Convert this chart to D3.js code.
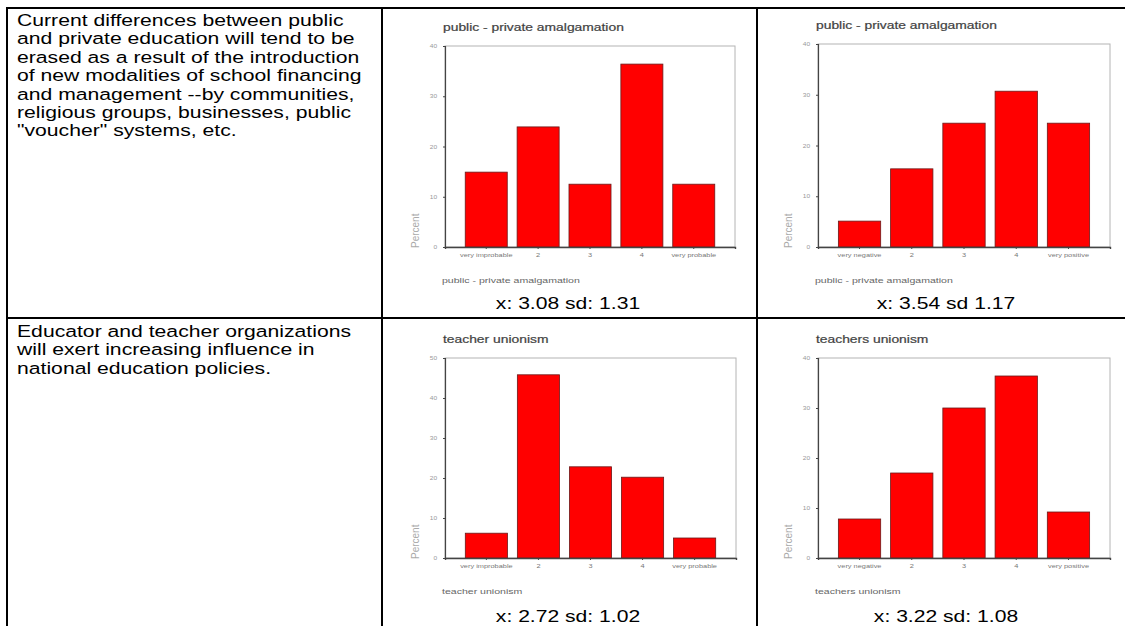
<!DOCTYPE html>
<html>
<head>
<meta charset="utf-8">
<script src="https://d3js.org/d3.v7.min.js"></script>
<style>
  body { margin: 0; background: #ffffff; font-family: Arial, "Liberation Sans", sans-serif; }
</style>
</head>
<body>
<div id="my_dataviz"></div>
<script>

// statements in the left column
var statementA = ["Current differences between public",
                  "and private education will tend to be",
                  "erased as a result of the introduction",
                  "of new modalities of school financing",
                  "and management --by communities,",
                  "religious groups, businesses, public",
                  "\"voucher\" systems, etc."];
var statementB = ["Educator and teacher organizations",
                  "will exert increasing influence in",
                  "national education policies."];

// answer categories
var catsProbable = ["very improbable", "2", "3", "4", "very probable"];
var catsPositive = ["very negative", "2", "3", "4", "very positive"];

// percent per category
var amalgamationProb = [14.9, 23.9, 12.5, 36.4, 12.5];
var amalgamationPos  = [5.1, 15.4, 24.4, 30.7, 24.4];
var unionismProb     = [6.2, 45.8, 22.8, 20.2, 5.0];
var unionismPos      = [7.8, 17.0, 30.0, 36.4, 9.2];

// y ticks
var ticks40 = [0, 10, 20, 30, 40];
var ticks50 = [0, 10, 20, 30, 40, 50];

// captions
var captions = ["x: 3.08 sd: 1.31", "x: 3.54 sd 1.17", "x: 2.72 sd: 1.02", "x: 3.22 sd: 1.08"];

var W = 1125, H = 626;
var sx = 1.32;   // the original page is stretched sideways

var svg = d3.select("#my_dataviz")
  .append("svg")
    .attr("width", W)
    .attr("height", H);

// table grid
var colX = [7, 382, 757, 1140];
var rowY = [8, 318, 640];
var grid = svg.append("g").attr("stroke", "#000").attr("stroke-width", 2);
colX.forEach(function(x) {
  grid.append("line").attr("x1", x).attr("x2", x).attr("y1", rowY[0] - 1).attr("y2", rowY[2]);
});
rowY.forEach(function(y) {
  grid.append("line").attr("x1", colX[0] - 1).attr("x2", colX[3]).attr("y1", y).attr("y2", y);
});

// left column text
function statement(lines, y0) {
  svg.append("text")
    .attr("transform", "translate(17," + y0 + ") scale(1.245,1)")
    .attr("font-size", 17)
    .attr("fill", "#000")
    .selectAll("tspan")
    .data(lines)
    .enter().append("tspan")
      .attr("x", 0)
      .attr("dy", function(d, i) { return i === 0 ? 0 : 18.4; })
      .text(function(d) { return d; });
}
statement(statementA, 26);
statement(statementB, 337);

// one small spss-like bar chart
function drawChart(o) {
  var g = svg.append("g");
  var x = d3.scaleBand()
    .domain(o.cats)
    .range([o.left, o.right])
    .paddingInner(0.19)
    .paddingOuter(0.39);
  var y = d3.scaleLinear()
    .domain([0, d3.max(o.ticks)])
    .range([o.bottom, o.top]);

  // frame
  g.append("rect")
    .attr("x", o.left).attr("y", o.top)
    .attr("width", o.right - o.left).attr("height", o.bottom - o.top)
    .attr("fill", "none").attr("stroke", "#b4b4b4").attr("stroke-width", 1);

  // bars
  g.selectAll("rect.bar")
    .data(o.values)
    .enter().append("rect")
      .attr("class", "bar")
      .attr("x", function(d, i) { return x(o.cats[i]); })
      .attr("y", function(d) { return y(d); })
      .attr("width", x.bandwidth())
      .attr("height", function(d) { return o.bottom - y(d); })
      .attr("fill", "#ff0000")
      .attr("stroke", "#6a1a1a")
      .attr("stroke-width", 0.8);

  // axes
  var yAxis = g.append("g")
    .attr("transform", "translate(" + o.left + ",0)")
    .call(d3.axisLeft(y).tickValues(o.ticks).tickSize(2).tickPadding(4));
  yAxis.select(".domain").attr("stroke", "#444").attr("stroke-width", 1.2);
  yAxis.selectAll(".tick line").attr("stroke", "#444");
  yAxis.selectAll(".tick text")
    .attr("font-size", 5).attr("fill", "#999").attr("font-family", "Arial")
    .attr("transform", "scale(" + sx + ",1)");

  var xAxis = g.append("g")
    .attr("transform", "translate(0," + o.bottom + ")")
    .call(d3.axisBottom(x).tickSize(2).tickPadding(4));
  xAxis.select(".domain").attr("stroke", "#444").attr("stroke-width", 1.4);
  xAxis.selectAll(".tick line").attr("stroke", "#444");
  xAxis.selectAll(".tick text")
    .attr("font-size", 5.6).attr("fill", "#777").attr("font-family", "Arial")
    .attr("transform", "scale(" + sx + ",1)");

  // title, axis titles
  g.append("text")
    .attr("transform", "translate(" + (o.left - 2) + "," + (o.top - 15) + ") scale(" + sx + ",1)")
    .attr("font-size", 10.5).attr("fill", "#333")
    .attr("stroke", "#666").attr("stroke-width", 0.25)
    .text(o.title);
  g.append("text")
    .attr("transform", "translate(" + (o.left - 3) + "," + (o.bottom + 36) + ") scale(" + sx + ",1)")
    .attr("font-size", 8).attr("fill", "#666")
    .text(o.title2);
  g.append("text")
    .attr("transform", "translate(" + (o.left - 26) + "," + (o.bottom + 1) + ") rotate(-90)")
    .attr("font-size", 10).attr("fill", "#aaa")
    .text("Percent");

  // caption
  svg.append("text")
    .attr("transform", "translate(" + o.capX + "," + o.capY + ") scale(" + sx + ",1)")
    .attr("text-anchor", "middle")
    .attr("font-size", 16).attr("fill", "#000")
    .text(o.caption);
}

drawChart({ left: 445, right: 735, top: 46, bottom: 247, cats: catsProbable, values: amalgamationProb,
            ticks: ticks40, title: "public - private amalgamation", title2: "public - private amalgamation",
            caption: captions[0], capX: 568, capY: 309 });
drawChart({ left: 818, right: 1110, top: 44, bottom: 247, cats: catsPositive, values: amalgamationPos,
            ticks: ticks40, title: "public - private amalgamation", title2: "public - private amalgamation",
            caption: captions[1], capX: 946, capY: 309 });
drawChart({ left: 445, right: 736, top: 358, bottom: 558, cats: catsProbable, values: unionismProb,
            ticks: ticks50, title: "teacher unionism", title2: "teacher unionism",
            caption: captions[2], capX: 568, capY: 622 });
drawChart({ left: 818, right: 1110, top: 358, bottom: 558, cats: catsPositive, values: unionismPos,
            ticks: ticks40, title: "teachers unionism", title2: "teachers unionism",
            caption: captions[3], capX: 946, capY: 622 });

</script>
</body>
</html>
